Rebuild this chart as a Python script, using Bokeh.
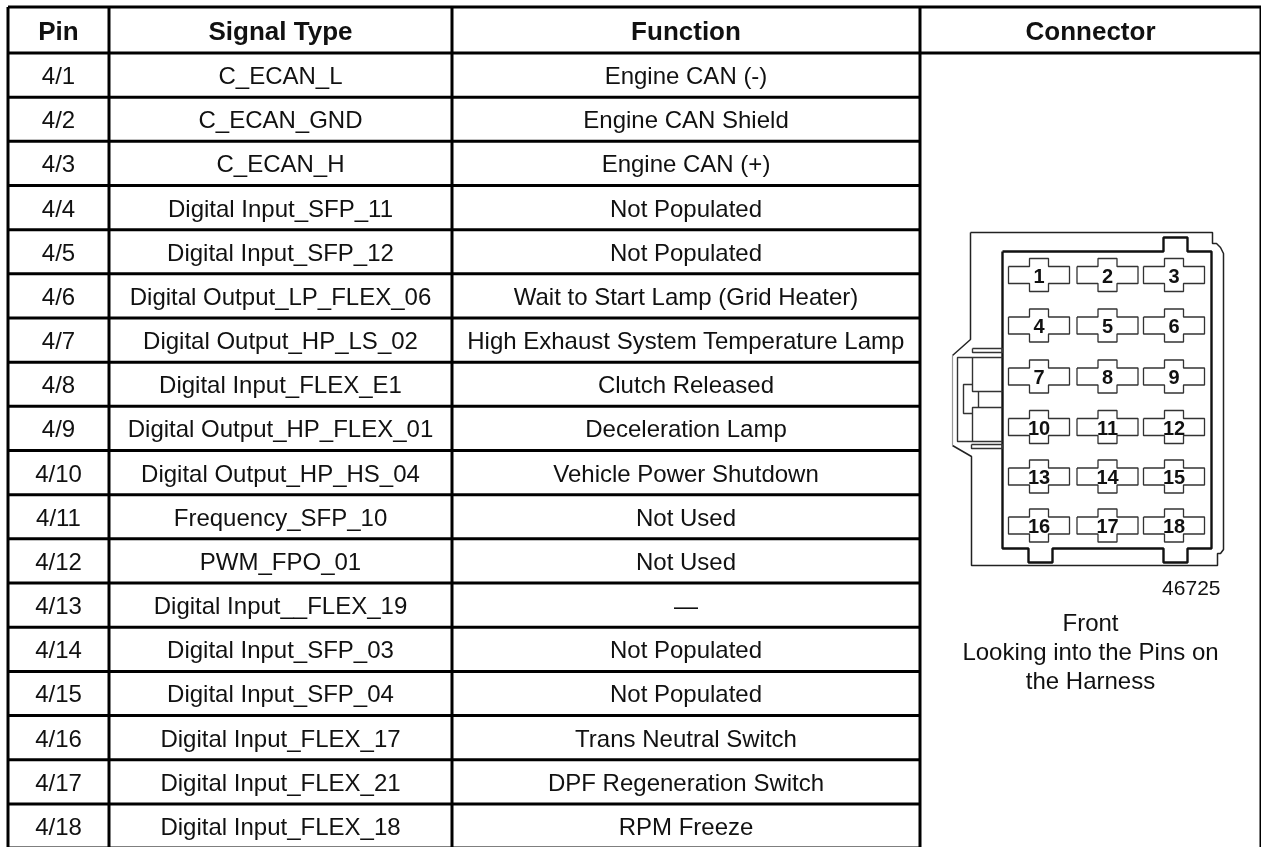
from bokeh.plotting import figure
from bokeh.models import Range1d
from bokeh.core.properties import value
from bokeh.embed import file_html
from bokeh.resources import INLINE

headers = ["Pin", "Signal Type", "Function", "Connector"]
pins = ["4/%d" % i for i in range(1, 19)]
signals = ["C_ECAN_L", "C_ECAN_GND", "C_ECAN_H", "Digital Input_SFP_11", "Digital Input_SFP_12",
           "Digital Output_LP_FLEX_06", "Digital Output_HP_LS_02", "Digital Input_FLEX_E1",
           "Digital Output_HP_FLEX_01", "Digital Output_HP_HS_04", "Frequency_SFP_10", "PWM_FPO_01",
           "Digital Input__FLEX_19", "Digital Input_SFP_03", "Digital Input_SFP_04",
           "Digital Input_FLEX_17", "Digital Input_FLEX_21", "Digital Input_FLEX_18"]
functions = ["Engine CAN (-)", "Engine CAN Shield", "Engine CAN (+)", "Not Populated", "Not Populated",
             "Wait to Start Lamp (Grid Heater)", "High Exhaust System Temperature Lamp", "Clutch Released",
             "Deceleration Lamp", "Vehicle Power Shutdown", "Not Used", "Not Used", "\u2014",
             "Not Populated", "Not Populated", "Trans Neutral Switch", "DPF Regeneration Switch", "RPM Freeze"]
caption = ["Front", "Looking into the Pins on", "the Harness"]
drawing_id = "46725"
pin_labels = [[str(3 * r + c + 1) for c in range(3)] for r in range(6)]

# table layout
W, H = 1261, 847
col_x = [7.5, 108.5, 451.5, 919.5, 1260.5]
y_top, y_head, row_h = 6.5, 52.5, 44.17
y_rows = [y_head + i * row_h for i in range(19)]
FONT = "Liberation Sans"
INK = "#111111"

p = figure(width=W, height=H, x_range=Range1d(0, W), y_range=Range1d(H, 0),
           toolbar_location=None, output_backend="svg", min_border=0,
           background_fill_color="white", border_fill_color="white", outline_line_color=None)
p.axis.visible = False
p.grid.visible = False
p.styles = {"position": "fixed", "left": "0", "top": "0"}

# grid
xs0 = [col_x[0], col_x[0]] + col_x
xs1 = [col_x[-1], col_x[-1]] + col_x
ys0 = [y_top, y_head] + [y_top] * len(col_x)
ys1 = [y_top, y_head] + [y_rows[-1]] * len(col_x)
p.segment(xs0, ys0, xs1, ys1, line_color="black", line_width=3)
inner = y_rows[1:]
p.segment([col_x[0]] * len(inner), inner, [col_x[3]] * len(inner), inner, line_color="black", line_width=3)

def put_text(x, y, t, size, bold=False, align="center"):
    p.text(x, y, text=t, text_font=value(FONT), text_font_size=value(size),
           text_font_style="bold" if bold else "normal", text_align=align,
           text_baseline="middle", text_color=INK)

centers = [(col_x[i] + col_x[i + 1]) / 2 for i in range(4)]
put_text(centers, [y_top / 2 + y_head / 2 + 0.5] * 4, headers, "26px", bold=True)
mids = [(y_rows[i] + y_rows[i + 1]) / 2 + 0.5 for i in range(18)]
put_text([centers[0]] * 18, mids, pins, "24px")
put_text([centers[1]] * 18, mids, signals, "24px")
put_text([centers[2]] * 18, mids, functions, "24px")

# connector drawing
outer_x = [970, 1212, 1212, 1216, 1220, 1223, 1223, 1220, 1217, 1217, 971, 971, 952]
outer_y = [232, 232, 243, 243, 247, 253, 549, 553, 553, 565, 565, 456, 445]
p.line(outer_x, outer_y, line_color="#222222", line_width=1.5)
p.line([952, 970, 970], [355, 339, 232], line_color="#222222", line_width=1.5)
p.line([952, 952], [355, 445], line_color="#999999", line_width=1.2)

body_x = [1002, 1163, 1163, 1187, 1187, 1211, 1211, 1187, 1187, 1163, 1163, 1052, 1052, 1028, 1028, 1002, 1002]
body_y = [251, 251, 237, 237, 251, 251, 548, 548, 562, 562, 548, 548, 562, 562, 548, 548, 251]
p.line(body_x, body_y, line_color="#111111", line_width=2.4)

latch = [
    ([972, 1002, 1002, 972, 972], [348, 348, 352, 352, 348]),
    ([971, 1002, 1002, 971, 971], [444, 444, 448, 448, 444]),
    ([1002, 957, 957, 1002], [357, 357, 441, 441]),
    ([972, 972, 1002], [357, 391, 391]),
    ([978, 978], [391, 407]),
    ([1002, 972, 972], [407, 407, 441]),
    ([972, 963, 963, 972], [384, 384, 413, 413]),
]
p.multi_line([l[0] for l in latch], [l[1] for l in latch], line_color="#333333", line_width=1.4)

pin_cx = [1038.5, 1107, 1173.5]
pin_cy = [274.5, 325, 376, 426.5, 476, 525]
half_w, half_h, tab_w, tab_h = 30.5, 8.5, 9.5, 16.5
crosses_x, crosses_y, lx, ly, lt = [], [], [], [], []
for r, cy in enumerate(pin_cy):
    for c, cx in enumerate(pin_cx):
        crosses_x.append([cx - half_w, cx - tab_w, cx - tab_w, cx + tab_w, cx + tab_w, cx + half_w,
                          cx + half_w, cx + tab_w, cx + tab_w, cx - tab_w, cx - tab_w, cx - half_w, cx - half_w])
        crosses_y.append([cy - half_h, cy - half_h, cy - tab_h, cy - tab_h, cy - half_h, cy - half_h,
                          cy + half_h, cy + half_h, cy + tab_h, cy + tab_h, cy + half_h, cy + half_h, cy - half_h])
        lx.append(cx)
        ly.append(cy + 0.5)
        lt.append(pin_labels[r][c])
p.multi_line(crosses_x, crosses_y, line_color="#333333", line_width=1.3)
put_text(lx, ly, lt, "20px", bold=True)

put_text([1220], [587], [drawing_id], "21px", align="right")
put_text([1090] * 3, [622, 651, 680], caption, "24px")

open("out.html", "w").write(file_html(p, INLINE))
